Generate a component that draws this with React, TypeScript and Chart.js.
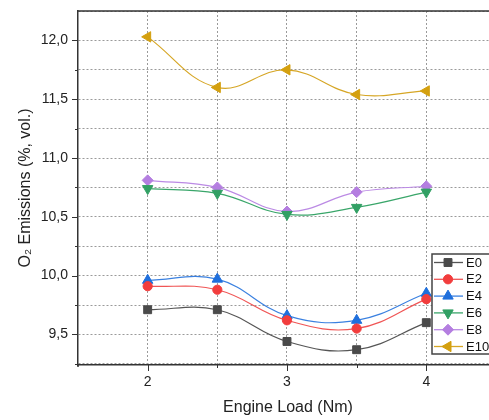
import React, { useEffect, useRef } from 'react';
import { Chart, registerables } from 'chart.js';

Chart.register(...registerables);

// ---- data ----
const loads = [2, 2.5, 3, 3.5, 4];
const e0 = [9.71, 9.71, 9.44, 9.37, 9.6];
const e2 = [9.91, 9.88, 9.62, 9.55, 9.8];
const e4 = [9.96, 9.97, 9.66, 9.62, 9.85];
const e6 = [10.74, 10.7, 10.52, 10.58, 10.71];
const e8 = [10.81, 10.75, 10.545, 10.71, 10.76];
const e10 = [12.03, 11.6, 11.75, 11.54, 11.57];
const seriesNames = ['E0', 'E2', 'E4', 'E6', 'E8', 'E10'];
const xTickValues = [2, 2.5, 3, 3.5, 4];
const xLabelValues = [2, 3, 4];
const yTickValues = [9.25, 9.5, 9.75, 10, 10.25, 10.5, 10.75, 11, 11.25, 11.5, 11.75, 12, 12.25];
const yLabelValues = [9.5, 10, 10.5, 11, 11.5, 12];
const xTitle = 'Engine Load (Nm)';
const yTitle = 'O\u2082 Emissions (%, vol.)';

const FONT = "'Liberation Sans', Arial, sans-serif";

const styles = [
  { color: '#4a4a4a', line: '#555555', shape: 'rect', rot: 0, r: 5.6 },
  { color: '#f23d3d', line: '#f05555', shape: 'circle', rot: 0, r: 4.6 },
  { color: '#1f6fdc', line: '#3a80e0', shape: 'triangle', rot: 0, r: 6 },
  { color: '#32a064', line: '#3aa66a', shape: 'triangle', rot: 180, r: 6 },
  { color: '#b47ee0', line: '#bb8ae4', shape: 'rectRot', rot: 0, r: 5.5 },
  { color: '#d4a00f', line: '#d6a625', shape: 'triangle', rot: 270, r: 6 },
];

const seriesData = [e0, e2, e4, e6, e8, e10];

function drawMarker(ctx: CanvasRenderingContext2D, shape: string, rot: number, r: number, x: number, y: number, color: string) {
  ctx.save();
  ctx.translate(x, y);
  ctx.rotate((rot * Math.PI) / 180);
  ctx.fillStyle = color;
  ctx.strokeStyle = color;
  ctx.lineWidth = 1;
  ctx.beginPath();
  if (shape === 'rect') {
    const s = r * Math.SQRT1_2;
    ctx.rect(-s, -s, 2 * s, 2 * s);
  } else if (shape === 'circle') {
    ctx.arc(0, 0, r, 0, Math.PI * 2);
  } else if (shape === 'triangle') {
    ctx.moveTo(0, -r);
    ctx.lineTo(r * Math.sin(Math.PI / 3), r * 0.5);
    ctx.lineTo(-r * Math.sin(Math.PI / 3), r * 0.5);
    ctx.closePath();
  } else if (shape === 'rectRot') {
    ctx.moveTo(0, -r);
    ctx.lineTo(r, 0);
    ctx.lineTo(0, r);
    ctx.lineTo(-r, 0);
    ctx.closePath();
  }
  ctx.fill();
  ctx.stroke();
  ctx.restore();
}

// Stretch the plot area to the right edge of the canvas (the reference is cropped there)
const stretchPlugin = {
  id: 'stretch',
  afterLayout(chart: any) {
    const xs = chart.scales.x;
    const right = chart.width;
    chart.chartArea.right = right;
    chart.chartArea.width = right - chart.chartArea.left;
    xs.right = right;
    xs.width = right - xs.left;
    xs.configure();
    const ys = chart.scales.y;
    ys.configure();
  },
};

const framePlugin = {
  id: 'frame',
  afterDraw(chart: any) {
    const ctx = chart.ctx as CanvasRenderingContext2D;
    const { left, right, top, bottom } = chart.chartArea;
    const xs = chart.scales.x;
    const ys = chart.scales.y;
    ctx.save();
    // top border
    ctx.strokeStyle = '#333';
    ctx.lineWidth = 1.5;
    ctx.beginPath();
    ctx.moveTo(left, top);
    ctx.lineTo(right + 2, top);
    ctx.stroke();
    // ticks
    ctx.lineWidth = 1;
    ctx.strokeStyle = '#333';
    xTickValues.forEach((v) => {
      const px = Math.round(xs.getPixelForValue(v)) + 0.5;
      const len = xLabelValues.includes(v) ? 6 : 3;
      ctx.beginPath();
      ctx.moveTo(px, bottom);
      ctx.lineTo(px, bottom + len);
      ctx.stroke();
    });
    yTickValues.forEach((v) => {
      const py = Math.round(ys.getPixelForValue(v)) + 0.5;
      if (py < top + 1) return;
      const len = yLabelValues.includes(v) ? 6 : 3;
      ctx.beginPath();
      ctx.moveTo(left, py);
      ctx.lineTo(left - len, py);
      ctx.stroke();
    });
    // left axis small extension below bottom
    ctx.lineWidth = 1.5;
    ctx.beginPath();
    ctx.moveTo(left, bottom);
    ctx.lineTo(left, bottom + 2);
    ctx.stroke();

    // x axis title (centred on the full, uncropped plot width)
    ctx.fillStyle = '#222';
    ctx.font = `16px ${FONT}`;
    ctx.textAlign = 'center';
    ctx.textBaseline = 'middle';
    ctx.fillText(xTitle, xs.getPixelForValue(3) + 1, 408);

    // legend
    const bx = 432, by = 254, bw = 70, bh = 100;
    ctx.fillStyle = '#ffffff';
    ctx.fillRect(bx, by, bw, bh);
    ctx.strokeStyle = '#444';
    ctx.lineWidth = 1.5;
    ctx.strokeRect(bx, by, bw, bh);
    ctx.font = `13px ${FONT}`;
    ctx.textBaseline = 'middle';
    ctx.textAlign = 'left';
    seriesNames.forEach((name, i) => {
      const st = styles[i];
      const ry = 262.5 + i * 16.8;
      ctx.strokeStyle = st.line;
      ctx.lineWidth = 1.3;
      ctx.beginPath();
      ctx.moveTo(434, ry);
      ctx.lineTo(463, ry);
      ctx.stroke();
      drawMarker(ctx, st.shape, st.rot, st.r, 448, ry, st.color);
      ctx.fillStyle = '#111';
      ctx.fillText(name, 466, ry + 0.5);
    });
    ctx.restore();
  },
};

export default function App() {
  const ref = useRef<HTMLCanvasElement | null>(null);

  useEffect(() => {
    if (!ref.current) return;
    const datasets = seriesNames.map((name, i) => ({
      label: name,
      data: loads.map((x, j) => ({ x, y: seriesData[i][j] })),
      borderColor: styles[i].line,
      backgroundColor: styles[i].color,
      pointBackgroundColor: styles[i].color,
      pointBorderColor: styles[i].color,
      pointStyle: styles[i].shape as any,
      pointRotation: styles[i].rot,
      pointRadius: styles[i].r,
      pointBorderWidth: 1,
      borderWidth: 1.2,
      tension: 0.4,
      fill: false,
    }));

    const chart = new Chart(ref.current, {
      type: 'line',
      data: { datasets },
      plugins: [stretchPlugin, framePlugin],
      options: {
        animation: false,
        responsive: false,
        maintainAspectRatio: false,
        layout: { padding: { top: 11, right: 0, left: 0, bottom: 0 } },
        plugins: {
          legend: { display: false },
          tooltip: { enabled: false },
        },
        scales: {
          x: {
            type: 'linear',
            min: 1.5,
            max: 4.45,
            afterBuildTicks: (scale: any) => {
              scale.ticks = xTickValues.map((v) => ({ value: v }));
            },
            afterFit: (scale: any) => {
              scale.height = 55;
              scale.paddingLeft = 0;
              scale.paddingRight = 0;
            },
            ticks: {
              autoSkip: false,
              maxRotation: 0,
              padding: 9,
              color: '#222',
              font: { family: FONT, size: 14 },
              callback: (v: any) => (xLabelValues.includes(Number(v)) ? String(v) : ''),
            },
            grid: {
              color: '#9a9a9a',
              lineWidth: 1,
              drawTicks: false,
            },
            border: { display: true, color: '#333', width: 1.5, dash: [2, 2] },
            title: { display: false },
          },
          y: {
            type: 'linear',
            min: 9.24,
            max: 12.25,
            afterBuildTicks: (scale: any) => {
              scale.ticks = yTickValues.map((v) => ({ value: v }));
            },
            afterFit: (scale: any) => {
              scale.width = 78;
              scale.paddingTop = 0;
              scale.paddingBottom = 0;
            },
            ticks: {
              autoSkip: false,
              padding: 10,
              color: '#222',
              font: { family: FONT, size: 14 },
              callback: (v: any) =>
                yLabelValues.includes(Number(v)) ? Number(v).toFixed(1).replace('.', ',') : '',
            },
            grid: {
              color: '#9a9a9a',
              lineWidth: 1,
              drawTicks: false,
            },
            border: { display: true, color: '#333', width: 1.5, dash: [2, 2] },
            title: {
              display: true,
              text: yTitle,
              color: '#222',
              font: { family: FONT, size: 16 },
              padding: { top: 16, bottom: 0 },
            },
          },
        },
      },
    });
    return () => chart.destroy();
  }, []);

  return (
    <div style={{ position: 'fixed', left: 0, top: 0, width: 489, height: 420, background: '#fff' }}>
      <canvas ref={ref} width={489} height={420} style={{ display: 'block', width: 489, height: 420 }} />
    </div>
  );
}
